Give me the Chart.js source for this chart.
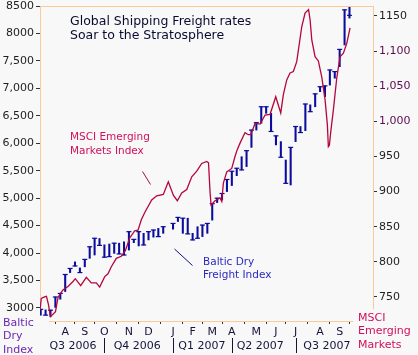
<!DOCTYPE html>
<html><head><meta charset="utf-8">
<script src="https://cdn.jsdelivr.net/npm/chart.js@4"></script>
<style>html,body{margin:0;padding:0;background:#f8f8f8;overflow:hidden}</style>
</head><body>
<canvas id="c" width="418" height="355" style="display:block;width:418px;height:355px"></canvas>
<script>
// ---- data ----
const monthTickWeeks = [5,9,13,18,22,27,31,35,39,44,48,52,57,61];
const monthLabels = ['A','S','O','N','D','J','F','M','A','M','J','J','A','S'];
const quarterLabels = ['Q3 2006','Q4 2006','Q1 2007','Q2 2007','Q3 2007'];
const quarterCenterWeeks = [6.6,19.7,32.9,44.8,58.4];
const quarterBreakWeeks = [13,27,39,52];
const leftTicks = [3000,3500,4000,4500,5000,5500,6000,6500,7000,7500,8000,8500];
const rightTicks = [750,800,850,900,950,1000,1050,1100,1150];

const balticWeeks = [0,1,2,3,4,5,6,7,8,9,10,11,12,13,14,15,16,17,18,19,20,21,22,23,24,25,
  27,28,29,30,31,32,33,34,35,36,37,38,39,40,41,42,43,44,45,46,47,48,49,50,51,52,53,54,55,56,57,58,59,60,61,62,63];
const balticHigh = [2975,2965,2960,3200,3265,3610,3720,3840,3730,3885,4115,4270,4265,4150,4165,4180,4180,4205,4390,4250,4390,4360,4390,4420,4450,4480,
  4540,4650,4635,4635,4360,4480,4510,4540,4900,5000,5085,5340,5490,5545,5755,5865,6240,6375,6665,6665,6545,6135,6030,5695,5925,6305,6305,6715,6700,6900,7030,7045,7335,7305,7710,8430,8490];
const balticLow = [2870,2870,2845,3010,3160,3300,3645,3765,3645,3750,3905,3965,4140,3925,3935,3995,3985,3965,4055,4190,4130,4148,4240,4290,4300,4360,
  4435,4575,4360,4350,4240,4270,4300,4360,4600,4920,4965,5120,5230,5410,5515,5575,5925,6240,6365,6545,6215,5970,5745,5270,5240,6030,6195,6230,6575,6665,6940,6850,7060,7185,7395,7790,8280];
const balticClose = [2975,2870,2960,3200,3265,3610,3720,3765,3645,3885,4115,4270,4140,3925,3935,4180,3985,3965,4390,4250,4390,4148,4390,4420,4300,4480,
  4540,4650,4635,4350,4240,4270,4510,4540,4900,5000,5085,5340,5490,5545,5515,5865,6240,6375,6665,6665,6215,6135,5745,5270,5925,6305,6195,6715,6575,6900,7030,7045,7335,7305,7710,8430,8330];

const msciWeeks = [-0.14,0.12,0.8,1.18,1.59,2.0,3.02,3.53,3.94,4.55,5.57,6.59,7.06,8.16,9.31,10.33,11.35,12.04,13.06,13.73,14.41,15.43,16.45,17.27,18.16,19.18,19.86,20.53,21.29,22.65,23.67,25.02,26.04,27.06,27.88,28.78,29.8,30.82,31.84,32.86,33.88,34.24,34.55,34.76,35.57,36.59,36.94,37.27,37.96,38.98,39.65,40.06,40.67,41.69,42.37,42.86,43.73,44.76,45.78,46.8,47.96,48.98,49.51,50.2,50.88,51.55,52.24,53.27,53.94,54.65,54.96,55.31,55.98,56.65,57.35,58.02,58.49,58.69,58.9,59.18,59.71,60.41,61.08,61.76,62.45,63.12];
const msciValues = [731,748,750,751,739,722,729,749,754,760,765,772,776,766,778,770,770,764,779,783,793,805,808,816,834,844,845,860,871,888,894,896,914,895,887,898,903,921,929,940,943,941,900,881,887,891,886,912,928,933,950,959,969,984,981,981,997,996,1009,1010,1035,1012,1038,1059,1069,1071,1085,1135,1154,1159,1145,1116,1092,1086,1063,1031,995,964,966,985,1016,1062,1092,1097,1111,1133];

// ---- styles ----
const FONT = 'DejaVu Sans';
const PEACH = '#f9c99a';
const NAVY = '#0c0c9c';
const CRIMSON = '#b4063c';

const decor = {
  id: 'decor',
  beforeDraw(chart) {
    const ctx = chart.ctx;
    ctx.save();
    ctx.fillStyle = '#f8f8f8';
    ctx.fillRect(0, 0, chart.width, chart.height);
    ctx.restore();
  },
  afterDraw(chart) {
    const {ctx, chartArea: a, scales} = chart;
    const xs = scales.x;
    ctx.save();
    // top frame line
    ctx.strokeStyle = PEACH; ctx.lineWidth = 1;
    ctx.beginPath(); ctx.moveTo(a.left, a.top + 0.5); ctx.lineTo(a.right, a.top + 0.5); ctx.stroke();
    // quarter labels
    ctx.font = '11px "' + FONT + '"';
    ctx.fillStyle = '#14143c';
    ctx.textAlign = 'center'; ctx.textBaseline = 'middle';
    quarterLabels.forEach((q, i) => ctx.fillText(q, xs.getPixelForValue(quarterCenterWeeks[i]), 346));
    ctx.strokeStyle = '#14143c';
    quarterBreakWeeks.forEach(w => {
      const px = Math.round(xs.getPixelForValue(w)) + 0.5;
      ctx.beginPath(); ctx.moveTo(px, 338); ctx.lineTo(px, 353); ctx.stroke();
    });
    // corner label boxes
    ctx.fillStyle = '#f8f8f8';
    ctx.fillRect(0, 316, 49, 39);
    ctx.fillRect(353, 309, 65, 46);
    ctx.textAlign = 'left';
    ctx.font = '11px "' + FONT + '"';
    ctx.fillStyle = '#6a28b0';
    ['Baltic', 'Dry', 'Index'].forEach((t, i) => ctx.fillText(t, 3, 323 + i * 13.5));
    ctx.fillStyle = '#d0105a';
    ['MSCI', 'Emerging', 'Markets'].forEach((t, i) => ctx.fillText(t, 358, 318 + i * 13.5));
    // title
    ctx.font = '12.5px "' + FONT + '"';
    ctx.fillStyle = '#0a0a30';
    ctx.fillText('Global Shipping Freight rates', 70, 22);
    ctx.fillText('Soar to the Stratosphere', 70, 35.5);
    // series labels
    ctx.font = '10.5px "' + FONT + '"';
    ctx.fillStyle = '#d0105a';
    ctx.fillText('MSCI Emerging', 70, 137);
    ctx.fillText('Markets Index', 70, 151);
    ctx.fillStyle = '#2a2ac0';
    ctx.fillText('Baltic Dry', 203, 262);
    ctx.fillText('Freight Index', 203, 275.5);
    // pointers
    ctx.lineWidth = 1;
    ctx.strokeStyle = '#a0103a';
    ctx.beginPath(); ctx.moveTo(142.5, 171.5); ctx.lineTo(150.5, 184.5); ctx.stroke();
    ctx.strokeStyle = '#10108a';
    ctx.beginPath(); ctx.moveTo(174.5, 249); ctx.lineTo(192.5, 265.5); ctx.stroke();
    ctx.restore();
  }
};

const fmtLeft = v => (v === 3000 || v >= 8000) ? String(v) : v.toLocaleString('en-US');
const fmtRight = v => (v >= 1000 && v < 1150) ? v.toLocaleString('en-US') : String(v);

new Chart(document.getElementById('c'), {
  type: 'bar',
  data: {
    datasets: [
      {
        type: 'line', label: 'MSCI Emerging Markets', yAxisID: 'yR', order: 0,
        data: msciWeeks.map((w, i) => ({x: w, y: msciValues[i]})),
        borderColor: CRIMSON, borderWidth: 1.3, pointRadius: 0, tension: 0, fill: false
      },
      {
        type: 'bar', label: 'Baltic Dry range', yAxisID: 'yL', order: 1,
        data: balticWeeks.map((w, i) => ({x: w, y: [balticLow[i], balticHigh[i]]})),
        backgroundColor: NAVY, borderWidth: 0, barThickness: 1.4, grouped: false
      },
      {
        type: 'scatter', label: 'Baltic Dry close', yAxisID: 'yL', order: 1,
        data: balticWeeks.map((w, i) => ({x: w, y: balticClose[i]})),
        pointStyle: 'line', pointRadius: 2.5, borderColor: NAVY, borderWidth: 1.2, pointHoverRadius: 0
      }
    ]
  },
  options: {
    responsive: false, animation: false, events: [],
    layout: {padding: {top: 6, left: 0, right: 0, bottom: 0}},
    plugins: {legend: {display: false}, tooltip: {enabled: false}},
    scales: {
      x: {
        type: 'linear', position: 'bottom', min: -0.14, max: 67.8, offset: false,
        afterBuildTicks: s => { s.ticks = monthTickWeeks.map(v => ({value: v})); },
        afterFit: s => { s.height = 34; s.paddingLeft = 0; s.paddingRight = 0; },
        ticks: {autoSkip: false, maxRotation: 0, padding: 2, color: '#14143c',
                font: {family: FONT, size: 11}, callback: (v, i) => monthLabels[i]},
        grid: {drawOnChartArea: false, drawTicks: true, tickLength: 3, color: '#333', tickColor: '#333'},
        border: {color: PEACH, width: 1}
      },
      yL: {
        type: 'linear', position: 'left', min: 2763, max: 8500,
        afterBuildTicks: s => { s.ticks = leftTicks.map(v => ({value: v})); },
        afterFit: s => { s.width = 40; s.paddingTop = 0; s.paddingBottom = 0; },
        ticks: {autoSkip: false, padding: 2, color: '#1e1e1e', font: {family: FONT, size: 11}, callback: v => fmtLeft(v)},
        grid: {drawOnChartArea: false, tickLength: 4, color: '#333', tickColor: '#333'},
        border: {color: PEACH, width: 1}
      },
      yR: {
        type: 'linear', position: 'right', min: 715.8, max: 1164.2,
        afterBuildTicks: s => { s.ticks = rightTicks.map(v => ({value: v})); },
        afterFit: s => { s.width = 45; s.paddingTop = 0; s.paddingBottom = 0; },
        ticks: {autoSkip: false, padding: 2, font: {family: FONT, size: 11},
                color: c => (c.tick && c.tick.value >= 1000 && c.tick.value <= 1100) ? '#5c0c4c' : '#1e1e1e',
                callback: v => fmtRight(v)},
        grid: {drawOnChartArea: false, tickLength: 4, color: '#333', tickColor: '#333'},
        border: {color: PEACH, width: 1}
      }
    }
  },
  plugins: [decor]
});
</script>
</body></html>
